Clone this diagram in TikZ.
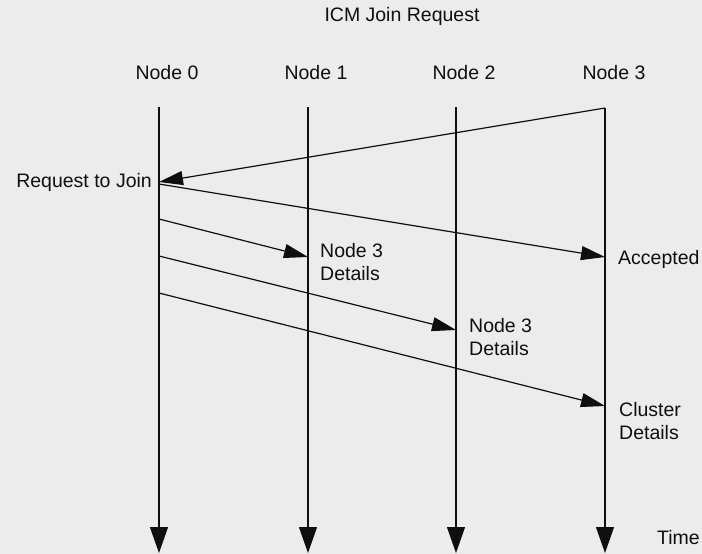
\documentclass[tikz,border=0pt]{standalone}
\usepackage{fontspec}
\setmainfont{Liberation Sans}
\usetikzlibrary{arrows.meta}
\definecolor{paper}{RGB}{236,236,236}
\definecolor{ink}{RGB}{15,15,15}
\tikzset{
  lbl/.style={font=\fontsize{19.5}{23}\selectfont, text=ink, inner sep=0pt},
  life/.style={draw=ink, line width=1.2pt, -{Triangle[length=26pt,width=18pt]}},
  msg/.style={draw=ink, line width=1.2pt, -{Triangle[length=24pt,width=14pt]}},
}
\begin{document}
\begin{tikzpicture}[x=1pt,y=-1pt]
\fill[paper] (0,0) rectangle (702,554);
\useasboundingbox (0,0) rectangle (702,554);
% title
\node[lbl] (title) at (402,16) {ICM Join Request};
% headers
\node[lbl] (h0) at (167,73) {Node 0};
\node[lbl] (h1) at (316,73) {Node 1};
\node[lbl] (h2) at (464,73) {Node 2};
\node[lbl] (h3) at (614,73) {Node 3};
% lifeline coordinates
\coordinate (t0) at (159,107);
\coordinate (t1) at (308,107);
\coordinate (t2) at (456,107);
\coordinate (t3) at (605,108);
\coordinate (b0) at (159,553);
\coordinate (b1) at (308,553);
\coordinate (b2) at (456,553);
\coordinate (b3) at (605,553);
\draw[life] (t0) -- (b0);
\draw[life] (t1) -- (b1);
\draw[life] (t2) -- (b2);
\draw[life] (t3) -- (b3);
% message points
\coordinate (r0) at (159,182);
\coordinate (s1) at (159,184);
\coordinate (e1) at (605,257);
\coordinate (s2) at (159,219);
\coordinate (e2) at (308,257);
\coordinate (s3) at (159,256);
\coordinate (e3) at (456,330);
\coordinate (s4) at (159,293);
\coordinate (e4) at (605,406);
\draw[msg] (t3) -- (r0);
\draw[msg] (s1) -- (e1);
\draw[msg] (s2) -- (e2);
\draw[msg] (s3) -- (e3);
\draw[msg] (s4) -- (e4);
% labels
\node[lbl, anchor=east] (req) at (152,182) {Request to Join};
\node[lbl, anchor=west] (acc) at (618,259) {Accepted};
\node[lbl, anchor=west, align=left] (d1) at (320,262) {Node 3\\Details};
\node[lbl, anchor=west, align=left] (d2) at (469,337) {Node 3\\Details};
\node[lbl, anchor=west, align=left] (d3) at (619,421) {Cluster\\Details};
\node[lbl, anchor=west] (time) at (657,538) {Time};
\end{tikzpicture}
\end{document}
